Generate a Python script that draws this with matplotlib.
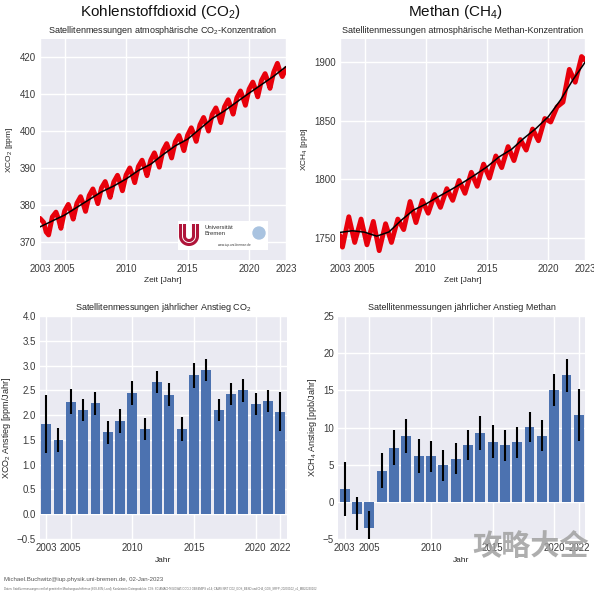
import matplotlib
matplotlib.use("Agg")
import matplotlib.pyplot as plt
import numpy as np

plt.rcParams['font.family'] = ['Liberation Sans', 'DejaVu Sans']
plt.rcParams['mathtext.default'] = 'regular'

# ---------------- data ----------------
# CO2 time series: 4 samples per year (Jan, ~Apr, ~Jul, ~Sep)
co2_years = list(range(2003, 2023))
co2_phase = [0.0, 0.3, 0.5, 0.7]
co2_values = [
    [376.3, 375.2, 372.6, 371.8],
    [376.7, 378.0, 376.2, 373.6],
    [378.3, 380.1, 378.3, 376.1],
    [380.4, 382.2, 380.4, 378.2],
    [382.5, 384.3, 382.5, 380.3],
    [384.6, 386.3, 384.3, 382.0],
    [386.2, 388.0, 386.1, 383.8],
    [388.1, 390.0, 388.2, 386.0],
    [390.4, 392.1, 390.2, 387.9],
    [392.1, 394.1, 392.3, 390.2],
    [394.7, 396.6, 394.8, 392.7],
    [397.1, 398.8, 396.9, 394.7],
    [398.9, 400.9, 399.2, 397.2],
    [401.7, 403.7, 402.0, 400.0],
    [404.5, 406.3, 404.5, 402.3],
    [406.6, 408.5, 406.7, 404.6],
    [409.0, 410.9, 409.1, 407.0],
    [411.4, 413.3, 411.5, 409.3],
    [413.7, 415.6, 413.8, 411.6],
    [416.0, 418.4, 416.3, 414.8],
]
co2_end_time = 2023.0
co2_end_value = 417.0

trend_years = list(range(2003, 2024))
co2_trend = [374.0, 375.6, 377.2, 379.3, 381.4, 383.5, 385.1, 387.0, 389.3, 391.0,
             393.6, 396.0, 397.8, 400.6, 403.4, 405.5, 407.9, 410.3, 412.6, 414.9, 417.5]

# CH4 time series: seasonal trough (~Mar) and peak (~Sep) per year
ch4_years = list(range(2003, 2023))
ch4_trough_phase = 0.2
ch4_peak_phase = 0.72
ch4_start_value = 1752
ch4_troughs = [1742, 1746, 1744, 1739, 1746, 1757, 1763, 1771, 1776, 1782,
               1788, 1794, 1801, 1810, 1816, 1825, 1833, 1849, 1866, 1883]
ch4_peaks = [1768, 1766, 1764, 1762, 1766, 1781, 1782, 1787, 1792, 1799,
             1806, 1813, 1820, 1828, 1834, 1843, 1852, 1862, 1894, 1905]
ch4_end_value = 1902
ch4_trend = [1754.6, 1756.0, 1754.8, 1751.4, 1755.0, 1765.0, 1773.7, 1778.8, 1785.0, 1790.8,
             1797.0, 1803.6, 1810.7, 1819.3, 1825.6, 1835.0, 1843.5, 1853.5, 1867.8, 1884.9, 1900.0]

# annual growth rates
bar_years = list(range(2003, 2023))
co2_rate = [1.82, 1.50, 2.27, 2.11, 2.24, 1.65, 1.88, 2.45, 1.72, 2.67,
            2.41, 1.72, 2.80, 2.91, 2.10, 2.42, 2.50, 2.23, 2.28, 2.07]
co2_rate_err = [0.58, 0.24, 0.25, 0.22, 0.23, 0.24, 0.24, 0.24, 0.23, 0.23,
                0.23, 0.24, 0.26, 0.23, 0.22, 0.22, 0.23, 0.22, 0.22, 0.40]
ch4_rate = [1.7, -1.6, -3.5, 4.2, 7.3, 8.9, 6.2, 6.1, 4.9, 5.8,
            7.6, 9.3, 8.1, 7.6, 8.0, 10.1, 8.9, 15.0, 17.0, 11.7]
ch4_rate_err = [3.6, 2.2, 2.3, 2.4, 2.3, 2.3, 2.3, 2.1, 2.1, 2.1,
                2.0, 2.3, 2.2, 2.1, 2.05, 2.05, 2.05, 2.15, 2.2, 3.45]

top_xticks = [2003, 2005, 2010, 2015, 2020, 2023]
bar_xticks = [2003, 2005, 2010, 2015, 2020, 2022]

# ---------------- build series ----------------
co2_t = [y + p for y in co2_years for p in co2_phase] + [co2_end_time]
co2_v = [v for row in co2_values for v in row] + [co2_end_value]

ch4_t = [2003.0]
ch4_v = [ch4_start_value]
for y, tr, pk in zip(ch4_years, ch4_troughs, ch4_peaks):
    ch4_t += [y + ch4_trough_phase, y + ch4_peak_phase]
    ch4_v += [tr, pk]
ch4_t.append(2023.0)
ch4_v.append(ch4_end_value)

# ---------------- styling ----------------
BG = '#EAEAF2'
TXT = '#262626'
TICK = '#3a3a3a'
W = 594
fig = plt.figure(figsize=(5.94, 5.94), dpi=100)


def px_axes(x0, y0, x1, y1):
    return fig.add_axes([x0 / W, 1 - y1 / W, (x1 - x0) / W, (y1 - y0) / W])


def style(ax):
    ax.set_facecolor(BG)
    for s in ax.spines.values():
        s.set_visible(False)
    ax.grid(True, color='white', lw=1.0)
    ax.set_axisbelow(True)
    ax.tick_params(length=0, labelsize=7, colors=TICK, pad=3)


# Top-left CO2
ax1 = px_axes(40, 39, 286, 260)
style(ax1)
ax1.plot(co2_t, co2_v, color='#e8000b', lw=3.5, solid_capstyle='round', solid_joinstyle='round')
ax1.plot(trend_years, co2_trend, color='black', lw=1.1)
ax1.set_xlim(2003, 2023)
ax1.set_ylim(365, 425)
ax1.set_xticks(top_xticks)
ax1.set_yticks([370, 380, 390, 400, 410, 420])
ax1.set_title('Satellitenmessungen atmosphärische CO$_2$-Konzentration', fontsize=6.5, color=TXT, pad=4)
ax1.set_xlabel('Zeit [Jahr]', fontsize=6, color=TXT, labelpad=2)
ax1.set_ylabel('XCO$_2$ [ppm]', fontsize=6, color=TXT, labelpad=3)

# Top-right CH4
ax2 = px_axes(340, 39, 585, 260)
style(ax2)
ax2.plot(ch4_t, ch4_v, color='#e8000b', lw=3.5, solid_capstyle='round', solid_joinstyle='round')
ax2.plot(trend_years, ch4_trend, color='black', lw=1.1)
ax2.set_xlim(2003, 2023)
ax2.set_ylim(1731, 1920)
ax2.set_xticks(top_xticks)
ax2.set_yticks([1750, 1800, 1850, 1900])
ax2.set_title('Satellitenmessungen atmosphärische Methan-Konzentration', fontsize=6.5, color=TXT, pad=4)
ax2.set_xlabel('Zeit [Jahr]', fontsize=6, color=TXT, labelpad=2)
ax2.set_ylabel('XCH$_4$ [ppb]', fontsize=6, color=TXT, labelpad=3)

# Bottom-left CO2 rate
ax3 = px_axes(40, 316, 287, 539)
style(ax3)
ax3.bar(bar_years, co2_rate, width=0.8, color='#4C72B0', zorder=2)
ax3.errorbar(bar_years, co2_rate, yerr=co2_rate_err, fmt='none', ecolor='black', elinewidth=1.5, capsize=0, zorder=3)
ax3.set_xlim(2002.5, 2022.55)
ax3.set_ylim(-0.5, 4.0)
ax3.set_xticks(bar_xticks)
ax3.set_yticks(np.arange(-0.5, 4.01, 0.5))
ax3.set_title('Satellitenmessungen jährlicher Anstieg CO$_2$', fontsize=6.5, color=TXT, pad=4)
ax3.set_xlabel('Jahr', fontsize=6, color=TXT, labelpad=3)
ax3.set_ylabel('XCO$_2$ Anstieg [ppm/Jahr]', fontsize=6.5, color=TXT, labelpad=3)

# Bottom-right CH4 rate
ax4 = px_axes(338, 316, 585, 539)
style(ax4)
ax4.bar(bar_years, ch4_rate, width=0.8, color='#4C72B0', zorder=2)
ax4.errorbar(bar_years, ch4_rate, yerr=ch4_rate_err, fmt='none', ecolor='black', elinewidth=1.5, capsize=0, zorder=3)
ax4.set_xlim(2002.45, 2022.5)
ax4.set_ylim(-5, 25)
ax4.set_xticks(bar_xticks)
ax4.set_yticks([-5, 0, 5, 10, 15, 20, 25])
ax4.set_title('Satellitenmessungen jährlicher Anstieg Methan', fontsize=6.5, color=TXT, pad=4)
ax4.set_xlabel('Jahr', fontsize=6, color=TXT, labelpad=3)
ax4.set_ylabel('XCH$_4$ Anstieg [ppb/Jahr]', fontsize=6.5, color=TXT, labelpad=3)

# Main titles
fig.text(160 / W, 1 - 12 / W, 'Kohlenstoffdioxid (CO$_2$)', fontsize=11, ha='center', va='center', color='#111111')
fig.text(455 / W, 1 - 12 / W, 'Methan (CH$_4$)', fontsize=11, ha='center', va='center', color='#111111')

# Logo (University of Bremen)
lg = px_axes(178, 221, 268, 250)
lg.set_xlim(0, 90)
lg.set_ylim(0, 29)
lg.set_facecolor('white')
for s in lg.spines.values():
    s.set_visible(False)
lg.set_xticks([])
lg.set_yticks([])
th = np.linspace(np.pi, 2 * np.pi, 40)
for r, w in [(8.5, 2.2), (4.5, 2.2)]:
    xs = np.concatenate([[11 - r], 11 + r * np.cos(th), [11 + r]])
    ys = np.concatenate([[26], 14 + r * np.sin(th), [26]])
    lg.plot(xs, ys, color='#b0153a', lw=w, solid_capstyle='butt')
lg.text(26, 22, 'Universität', fontsize=4.3, color='#333333', va='center')
lg.text(26, 16.5, 'Bremen', fontsize=4.3, color='#333333', va='center')
lg.text(40, 5, 'www.iup.uni-bremen.de', fontsize=2.3, style='italic', color='#333333', va='center')
lg.add_patch(plt.Circle((81, 17), 6, color='#a9c3e0'))

# Footer
fig.text(4 / W, 1 - 579 / W, 'Michael.Buchwitz@iup.physik.uni-bremen.de, 02-Jan-2023', fontsize=4.4,
         color='#555555', va='center')
fig.text(4 / W, 1 - 589 / W,
         'Daten: Satellitenmessungen vertikal gemittelter Mischungsverhältnisse (60S-60N; Land); '
         'Kombinierte Datenprodukte: C3S: SCIAMACHY/GOSAT/OCO-2 OBS4MIPS v4.4; CAMS NRT CO2_GOS_BESD '
         'und CH4_GOS_SRFP; 20230102_v1_MB20230102',
         fontsize=2.0, color='#666666', va='center')

# Watermark
fig.text(531 / W, 1 - 546 / W, '攻略大全', fontsize=21, fontweight='bold', color='#a0a0a0', alpha=0.85,
         ha='center', va='center', family=['Noto Sans CJK SC', 'DejaVu Sans'])

fig.savefig('out.png', dpi=100, facecolor='white')
